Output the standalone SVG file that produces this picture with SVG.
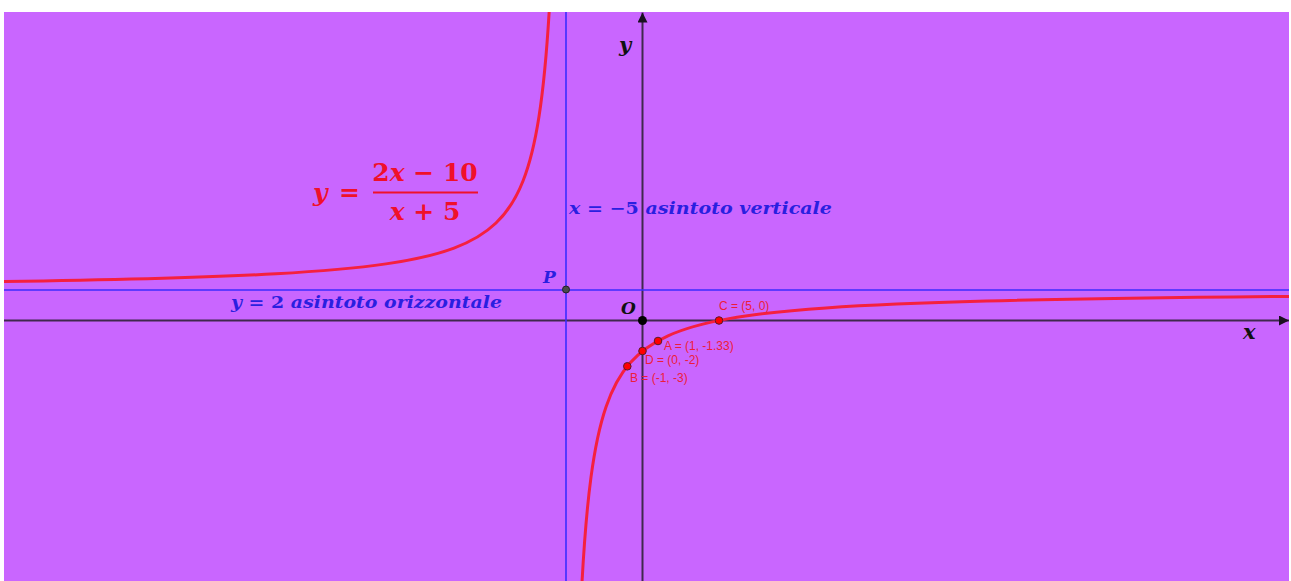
<svg xmlns="http://www.w3.org/2000/svg" width="1291" height="581" viewBox="0 0 1291 581">
<style>
.axis{stroke:#40284f;stroke-width:2;fill:none}
.asym{stroke:#3a2cff;stroke-width:1.6;fill:none}
.curve{stroke:#f5203f;stroke-width:3;fill:none;stroke-linecap:round}
.math{font-family:"DejaVu Serif","Liberation Serif",serif;font-style:italic;font-weight:bold}
.blue{fill:#2a1fe0}
.red{fill:#f0102a}
.lbl{font-family:"Liberation Sans",Arial,sans-serif;font-size:12px;fill:#ee1c3a}
.pt{fill:#ff0000;stroke:#5a1a2a;stroke-width:1}
</style>
<defs>
<clipPath id="clip"><rect x="4" y="12" width="1285" height="569"/></clipPath>
<marker id="arr" viewBox="0 0 10 10" refX="10" refY="5" markerWidth="10" markerHeight="10" markerUnits="userSpaceOnUse" orient="auto"><path d="M0,0 L10,5 L0,10 Z" fill="#1a1020"/></marker>
</defs>
<rect id="bg" x="4" y="12" width="1285" height="569" fill="#c966ff"/>
<g id="connectors" clip-path="url(#clip)">
<line id="xaxis" class="axis" x1="4" y1="320.5" x2="1289" y2="320.5" marker-end="url(#arr)"/>
<line id="yaxis" class="axis" x1="642.5" y1="581" x2="642.5" y2="12.5" marker-end="url(#arr)"/>
<line id="vasym" class="asym" x1="566" y1="12" x2="566" y2="581"/>
<line id="hasym" class="asym" x1="4" y1="290" x2="1289" y2="290"/>
<path id="left-branch" class="curve" d="M4,281.57 Q183.42,278.91 276,273.76 Q343.87,269.98 386,263.89 Q427.92,257.83 454,248.10 Q479.85,238.45 496,223.02 Q512.73,207.04 523,181.02 Q532.83,156.13 539,116.50 Q545.25,76.36 549.15,12.05"/>
<path id="right-branch" class="curve" d="M582.08,581.06 Q585.57,517.84 591,477.17 Q596.77,433.96 606,406.95 Q615.23,379.93 630,363.05 Q644.65,346.31 668,335.80 Q691.48,325.23 729,318.62 Q766.38,312.04 826,307.91 Q887.18,303.67 986,301.05 Q1096.80,298.11 1289,296.38"/>
</g>
<g id="axis-labels">
<text class="math" x="619" y="52" font-size="21" fill="#111">y</text>
<text class="math" x="1243" y="339" font-size="21" fill="#111">x</text>
<text class="math" x="621" y="314" font-size="17" fill="#111" font-weight="normal">O</text>
</g>
<g id="formula" class="red">
<text class="math" x="313" y="201" font-size="25">y</text>
<text x="339" y="201" font-size="25" font-family="DejaVu Serif,serif" font-weight="bold">=</text>
<text class="math" x="425" y="181" font-size="25" text-anchor="middle"><tspan font-style="normal">2</tspan>x <tspan font-style="normal">− 10</tspan></text>
<line x1="373" y1="192.5" x2="478" y2="192.5" stroke="#f0102a" stroke-width="2"/>
<text class="math" x="425" y="220" font-size="25" text-anchor="middle">x <tspan font-style="normal">+ 5</tspan></text>
</g>
<g id="vasym-label" class="blue">
<text class="math" x="569" y="214" font-size="17" textLength="263" lengthAdjust="spacingAndGlyphs">x <tspan font-style="normal">= −5</tspan> asintoto verticale</text>
</g>
<g id="hasym-label" class="blue">
<text class="math" x="231" y="308" font-size="17" textLength="271" lengthAdjust="spacingAndGlyphs">y <tspan font-style="normal">= 2</tspan> asintoto orizzontale</text>
</g>
<g id="P">
<circle cx="566" cy="289.5" r="3.5" fill="#4a4a4a" stroke="#222" stroke-width="1"/>
<text class="math blue" x="543" y="283" font-size="17">P</text>
</g>
<g id="O-point">
<circle cx="642.5" cy="320.5" r="4.5" fill="#000"/>
</g>
<g id="C">
<circle class="pt" cx="719" cy="320.5" r="3.8"/>
<text class="lbl" x="719" y="310">C = (5, 0)</text>
</g>
<g id="A">
<circle class="pt" cx="658" cy="341" r="3.8"/>
<text class="lbl" x="664" y="350">A = (1, -1.33)</text>
</g>
<g id="D">
<circle class="pt" cx="642.5" cy="351" r="3.8"/>
<text class="lbl" x="645" y="364">D = (0, -2)</text>
</g>
<g id="B">
<circle class="pt" cx="627.3" cy="366.3" r="3.8"/>
<text class="lbl" x="630" y="382">B = (-1, -3)</text>
</g>
</svg>
